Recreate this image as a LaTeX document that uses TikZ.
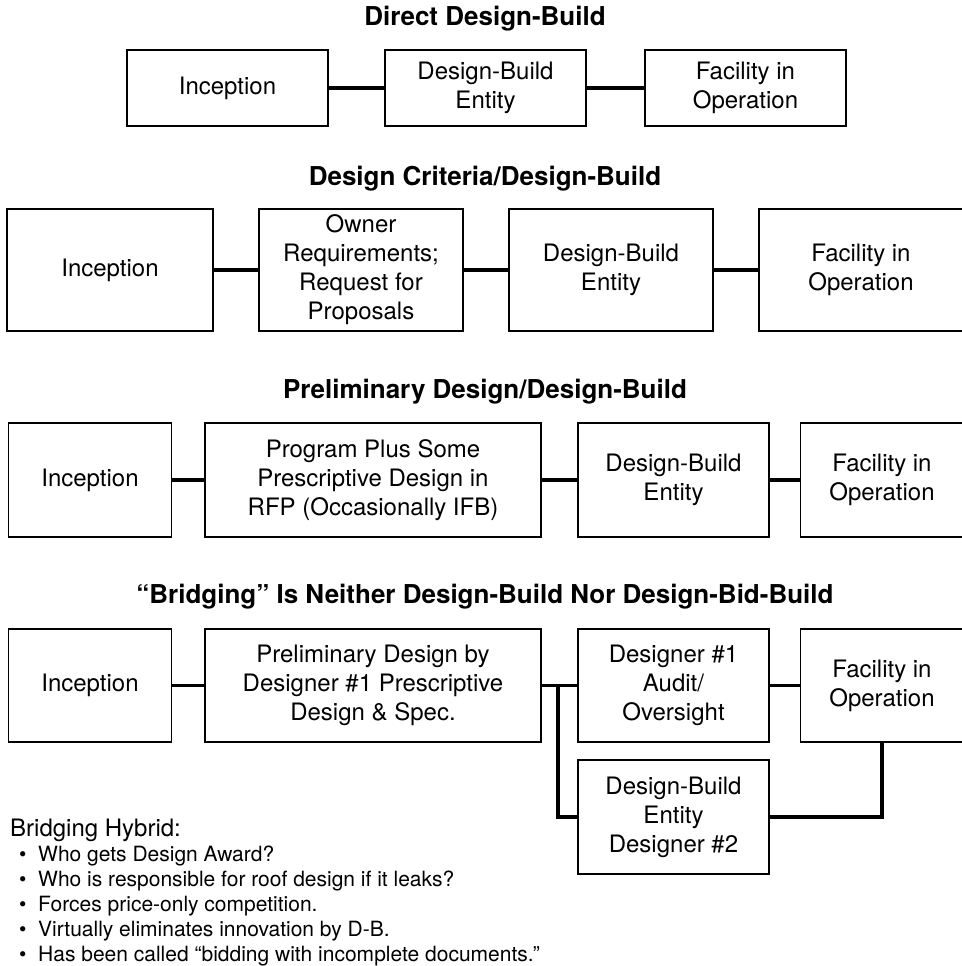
\documentclass[tikz,border=0pt]{standalone}
\usepackage{fontspec}
\setmainfont{TeX Gyre Heros}
\newcommand\boxfont{\fontsize{24}{29}\selectfont}
\newcommand\headfont{\fontsize{26}{31}\selectfont\bfseries}
\newcommand\notefont{\fontsize{21}{25}\selectfont}
\newcommand\itemfont{\fontsize{24}{28}\selectfont}
\begin{document}
\begin{tikzpicture}[x=1pt,y=-1pt,
  stage/.style={draw, line width=1.2pt, align=center, inner sep=0pt, font=\boxfont},
  link/.style={line width=3.2pt, line join=miter},
  heading/.style={anchor=base, inner sep=0pt, font=\headfont},
  bullet/.style={anchor=base west, inner sep=0pt, font=\notefont}]
\useasboundingbox (0,0) rectangle (961,966);

% --- Direct Design-Build ---
\node[heading] (t1) at (485,26) {Direct Design-Build};
\node[stage, minimum width=201pt, minimum height=76pt] (a1) at (227.5,88) {Inception};
\node[stage, minimum width=201pt, minimum height=76pt] (a2) at (485.5,88) {Design-Build\\Entity};
\node[stage, minimum width=201pt, minimum height=76pt] (a3) at (745.5,88) {Facility in\\Operation};
\draw[link] (a1.east) -- (a2.west);
\draw[link] (a2.east) -- (a3.west);

% --- Design Criteria/Design-Build ---
\node[heading] (t2) at (485,185) {Design Criteria/Design-Build};
\node[stage, minimum width=206pt, minimum height=122pt] (b1) at (110,270) {Inception};
\node[stage, minimum width=204pt, minimum height=122pt] (b2) at (361,270) {Owner\\Requirements;\\Request for\\Proposals};
\node[stage, minimum width=204pt, minimum height=122pt] (b3) at (611,270) {Design-Build\\Entity};
\node[stage, minimum width=204pt, minimum height=122pt] (b4) at (861,270) {Facility in\\Operation};
\draw[link] (b1.east) -- (b2.west);
\draw[link] (b2.east) -- (b3.west);
\draw[link] (b3.east) -- (b4.west);

% --- Preliminary Design/Design-Build ---
\node[heading] (t3) at (485,398) {Preliminary Design/Design-Build};
\node[stage, minimum width=163pt, minimum height=114pt] (c1) at (90,480) {Inception};
\node[stage, minimum width=336pt, minimum height=114pt] (c2) at (373,480) {Program Plus Some\\Prescriptive Design in\\RFP (Occasionally IFB)};
\node[stage, minimum width=191pt, minimum height=114pt] (c3) at (673.5,480) {Design-Build\\Entity};
\node[stage, minimum width=163pt, minimum height=114pt] (c4) at (882,480) {Facility in\\Operation};
\draw[link] (c1.east) -- (c2.west);
\draw[link] (c2.east) -- (c3.west);
\draw[link] (c3.east) -- (c4.west);

% --- Bridging ---
\node[heading] (t4) at (485,603) {“Bridging” Is Neither Design-Build Nor Design-Bid-Build};
\node[stage, minimum width=163pt, minimum height=113pt] (d1) at (90,685.5) {Inception};
\node[stage, minimum width=336pt, minimum height=113pt] (d2) at (373,685.5) {Preliminary Design by\\Designer \#1 Prescriptive\\Design \& Spec.};
\node[stage, minimum width=191pt, minimum height=113pt] (d3) at (673.5,685.5) {Designer \#1\\Audit/\\Oversight};
\node[stage, minimum width=163pt, minimum height=113pt] (d4) at (882,685.5) {Facility in\\Operation};
\node[stage, minimum width=191pt, minimum height=114pt] (d5) at (673.5,817) {Design-Build\\Entity\\Designer \#2};
\coordinate (split) at (558,685.5);
\draw[link] (d1.east) -- (d2.west);
\draw[link] (d2.east) -- (d3.west);
\draw[link] (d3.east) -- (d4.west);
\draw[link] (split) |- (d5.west);
\draw[link] (d5.east) -| (d4.south);

% --- Notes ---
\node[anchor=base west, inner sep=0pt, font=\itemfont] (hb) at (10,836) {Bridging Hybrid:};
\node[bullet] (n1) at (19,861.5) {\makebox[19pt][l]{\textbullet}Who gets Design Award?};
\node[bullet] (n2) at (19,886.5) {\makebox[19pt][l]{\textbullet}Who is responsible for roof design if it leaks?};
\node[bullet] (n3) at (19,911.5) {\makebox[19pt][l]{\textbullet}Forces price-only competition.};
\node[bullet] (n4) at (19,936.5) {\makebox[19pt][l]{\textbullet}Virtually eliminates innovation by D-B.};
\node[bullet] (n5) at (19,961.2) {\makebox[19pt][l]{\textbullet}Has been called “bidding with incomplete documents.”};
\end{tikzpicture}
\end{document}
